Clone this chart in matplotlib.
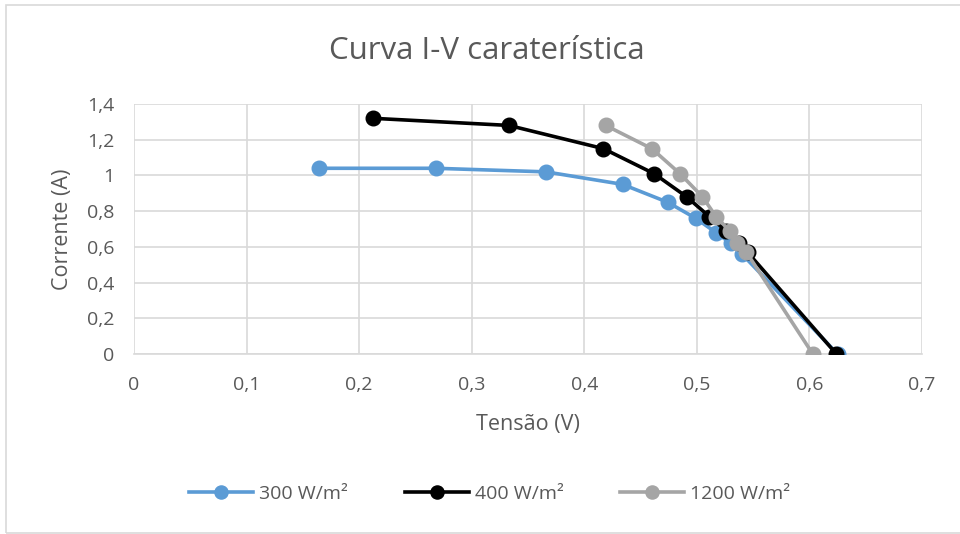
import matplotlib.pyplot as plt
from matplotlib.patches import Rectangle
from matplotlib.ticker import FuncFormatter

# curvas I-V medidas para cada irradiância
v_300 = [0.164, 0.268, 0.366, 0.434, 0.474, 0.499, 0.517, 0.530, 0.540, 0.625]
i_300 = [1.04, 1.04, 1.02, 0.95, 0.85, 0.76, 0.68, 0.62, 0.56, 0.0]

v_400 = [0.212, 0.333, 0.417, 0.462, 0.491, 0.511, 0.526, 0.537, 0.545, 0.624]
i_400 = [1.32, 1.28, 1.15, 1.01, 0.88, 0.77, 0.69, 0.62, 0.57, 0.0]

v_1200 = [0.419, 0.460, 0.485, 0.505, 0.517, 0.529, 0.536, 0.544, 0.603]
i_1200 = [1.28, 1.15, 1.01, 0.88, 0.77, 0.69, 0.62, 0.57, 0.0]

labels = ["300 W/m²", "400 W/m²", "1200 W/m²"]
colors = ["#5b9bd5", "#000000", "#a5a5a5"]

txt = "#595959"
plt.rcParams['font.family'] = ['Open Sans', 'DejaVu Sans']

fig = plt.figure(figsize=(9.6, 5.34), dpi=100)
ax = fig.add_axes([134 / 960, 1 - 354 / 534, (922 - 134) / 960, (354 - 104) / 534])

for v, i, lab, c in zip([v_300, v_400, v_1200], [i_300, i_400, i_1200], labels, colors):
    ax.plot(v, i, color=c, lw=2.6, marker='o', markersize=10.5, label=lab, zorder=3)

ax.set_xlim(0, 0.7)
ax.set_ylim(0, 1.4)
ax.set_xticks([0, 0.1, 0.2, 0.3, 0.4, 0.5, 0.6, 0.7])
ax.set_yticks([0, 0.2, 0.4, 0.6, 0.8, 1.0, 1.2, 1.4])
fmt = FuncFormatter(lambda x, p: ('%g' % round(x, 2)).replace('.', ','))
ax.xaxis.set_major_formatter(fmt)
ax.yaxis.set_major_formatter(fmt)
ax.grid(True, color='#d9d9d9', lw=1.2)
ax.set_axisbelow(True)
for s in ['top', 'right', 'left']:
    ax.spines[s].set_visible(False)
ax.spines['bottom'].set_color('#d9d9d9')
ax.spines['bottom'].set_linewidth(1.2)
ax.tick_params(length=0, labelsize=14, labelcolor=txt)
ax.tick_params(axis='x', pad=16)
ax.tick_params(axis='y', pad=14)

ax.set_xlabel('Tensão (V)', fontsize=15.5, color=txt, labelpad=14)
ax.set_ylabel('Corrente (A)', fontsize=15.5, color=txt, labelpad=10)
fig.text(0.507, 0.905, 'Curva I-V caraterística', ha='center', va='center',
         fontsize=22.5, color=txt)

leg = fig.legend(loc='center', bbox_to_anchor=(0.51, 0.075), ncol=3, frameon=False,
                 fontsize=14, handlelength=3.3, columnspacing=2.9, handletextpad=0.3,
                 markerscale=0.9)
for t in leg.get_texts():
    t.set_color(txt)

fig.patches.append(Rectangle((6 / 960, 1 / 534), 1.0, 528 / 534, transform=fig.transFigure,
                             fill=False, edgecolor='#d9d9d9', lw=1.2))

fig.savefig('out.png', dpi=100)
